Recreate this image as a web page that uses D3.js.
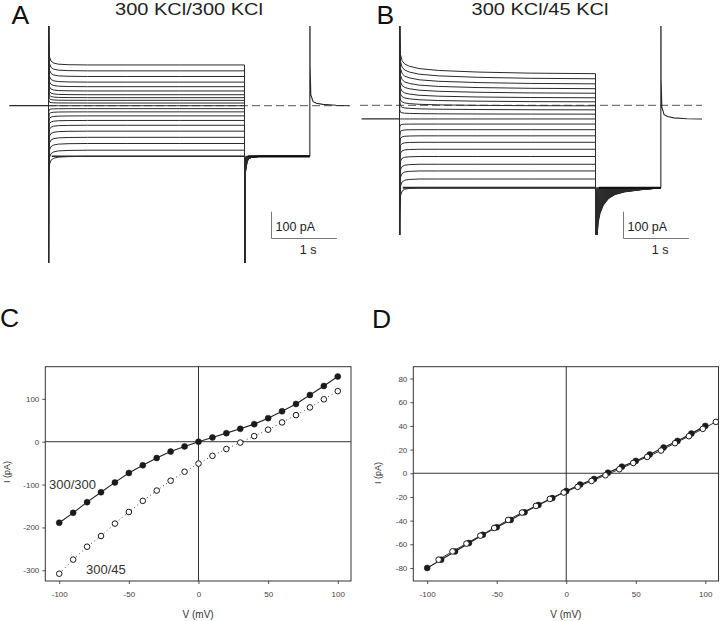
<!DOCTYPE html>
<html>
<head>
<meta charset="utf-8">
<script src="https://cdn.jsdelivr.net/npm/d3@7"></script>
<style>
  html, body { margin: 0; padding: 0; background: #fff; }
  svg { display: block; font-family: "Liberation Sans", Arial, sans-serif; }
</style>
</head>
<body>
<svg id="fig" width="720" height="621"></svg>
<script>
// ---------------- DATA ----------------
// Test voltages (mV)
const voltages = [-100,-90,-80,-70,-60,-50,-40,-30,-20,-10,0,10,20,30,40,50,60,70,80,90,100];
// Steady-state currents (pA), 300/300 KCl (filled) and 300/45 KCl (open)
const iSym  = [-189,-166,-141,-118,-95,-73,-55,-38,-23,-11,0,10,20,30,41,55,71,88,109,130,152];
const iAsym = [-308,-275,-245,-220,-191,-164,-138,-114,-91,-70,-51,-33,-17,-2,13,28,45,62,80,99,118];

// Panel D (normalised / corrected I-V)
const vD1 = [-100,-90,-80,-70,-60,-50,-40,-30,-20,-10,0,10,20,30,40,50,60,70,80,90,100];
const iD1 = [-80,-73,-66,-59,-52,-45.6,-39.4,-33,-26.8,-21,-15,-9.6,-4.8,0.5,5.6,10.4,15.8,21.7,27.3,33.5,40];
const vD2 = [-91.8,-81.8,-71.8,-61.8,-51.8,-41.8,-31.8,-21.8,-11.8,-1.8,8.2,18.2,28.2,38.2,48.2,58.2,68.2,78.2,88.2,98.2,107.6];
const iD2 = [-73,-66,-59.4,-52.7,-46.2,-39.4,-33.2,-27.6,-21.7,-16.3,-11.5,-6.5,-1.7,3.4,8.7,13.8,19.2,25.4,31.3,37.5,43.4];

// Protocol timing (s)
const tOn = 0.6, tOff = 3.6, tRet = 4.6, tEndA = 5.2, tStartA = 0, tStartB = 0.02, tEndB = 5.23;
const holdA = 0, holdB = -51;          // holding currents (pA)
const tailA = -189, tailB = -308;      // tail currents at -100 mV (pA)

// Capacitive / relaxation transients (pA)
const onT      = [0, 0.004, 0.015, 0.04, 0.08, 0.15, 0.3, 0.6, 1.2, 2.0, 3.0];
const onFastA  = [1500, 120, 30, 14, 7, 3, 1, 0, 0, 0, 0];     // per +100 mV step
const onFastB  = [1500, 120, 30, 12, 5, 2, 0, 0, 0, 0, 0];
const onSlowB  = [0, 45, 42, 36, 31, 26, 19, 12, 6, 2, 0];     // depolarised sweeps only
const offT     = [0, 0.004, 0.015, 0.04, 0.07, 0.12, 0.2, 0.3, 0.45, 0.7, 1.0];
const offA     = [-3000, -250, -60, -20, -8, -3, -1, 0, 0, 0, 0]; // per -200 mV step
const offB     = [-3000, -400, -220, -130, -95, -65, -40, -25, -15, -7, 0];
const retT     = [0, 0.004, 0.015, 0.05, 0.1, 0.2, 0.4, 0.6];
const retA     = [1500, 150, 40, 15, 9, 5, 1.5, 0];
const retB     = [1500, 150, 45, 16, 9, 4, 1, 0];

// Tick values
const ticksCx = [-100,-50,0,50,100];
const ticksCy = [-300,-200,-100,0,100];
const ticksDx = [-100,-50,0,50,100];
const ticksDy = [-80,-60,-40,-20,0,20,40,60,80];

// ---------------- DRAW ----------------
const svg = d3.select("#fig");
const ink = "#2a2a2a";

// ---- Trace panels ----
function tracePanel(cfg) {
  const g = svg.append("g");
  const clipId = "clip" + cfg.id;
  svg.append("defs").append("clipPath").attr("id", clipId)
    .append("rect").attr("x", cfg.clip[0]).attr("y", cfg.clip[1])
    .attr("width", cfg.clip[2]).attr("height", cfg.clip[3]);
  const x = cfg.x, y = cfg.y;
  const line = d3.line().x(d => x(d[0])).y(d => y(d[1]));
  const inner = g.append("g").attr("clip-path", `url(#${clipId})`);

  // zero-current dashed line
  inner.append("line")
    .attr("x1", cfg.dash[0]).attr("x2", cfg.dash[1])
    .attr("y1", y(0)).attr("y2", y(0))
    .attr("stroke", "#555").attr("stroke-width", 1)
    .attr("stroke-dasharray", "8,4");

  // holding before the step
  inner.append("path").attr("d", line([[cfg.t0, cfg.hold], [tOn, cfg.hold]]))
    .attr("fill", "none").attr("stroke", ink).attr("stroke-width", 1.3);

  const sweeps = voltages.map((v, k) => {
    const I = cfg.iss[k];
    const pts = [[tOn, cfg.hold]];
    onT.forEach((t, j) => {
      let extra = (v / 100) * cfg.onFast[j];
      if (cfg.onSlow && v > 0) extra += (v / 100) * cfg.onSlow[j];
      pts.push([tOn + t, I + extra]);
    });
    offT.forEach((t, j) => pts.push([tOff + t, cfg.tail + ((v + 100) / 200) * cfg.off[j]]));
    pts.push([tRet, cfg.tail]);
    return { v, pts };
  });

  // transient envelope after the step end (dense overlapping noisy sweeps)
  if (cfg.tailFill) {
    const area = d3.area().x(d => x(tOff + d[0])).y0(y(cfg.tail))
      .y1(d => y(cfg.tail + d[1]));
    inner.append("path")
      .attr("d", area(offT.map((t, j) => [t, cfg.off[j]]).slice(1)))
      .attr("fill", "#1e1e1e").attr("opacity", 0.85);
  }

  inner.selectAll("path.sweep").data(sweeps).join("path")
    .attr("class", "sweep")
    .attr("d", d => line(d.pts))
    .attr("fill", "none")
    .attr("stroke", ink)
    .attr("stroke-width", 1)
    .attr("stroke-linejoin", "round");

  // noisy hyperpolarised sweep and tail plateau (drawn thicker)
  inner.append("path")
    .attr("d", line([[tOn + 0.05, cfg.iss[0]], [tOff, cfg.iss[0]]]))
    .attr("stroke", ink).attr("stroke-width", cfg.noiseW).attr("fill", "none");
  inner.append("path")
    .attr("d", line([[tOff + 0.05, cfg.tail], [tRet, cfg.tail]]))
    .attr("stroke", "#111").attr("stroke-width", 2.2).attr("fill", "none");

  // return to holding (identical for every sweep)
  const retPts = [[tRet, cfg.tail]].concat(retT.map((t, j) => [tRet + t, cfg.hold + cfg.ret[j]]));
  retPts.push([cfg.t1, cfg.hold]);
  inner.append("path").attr("d", line(retPts))
    .attr("fill", "none").attr("stroke", ink).attr("stroke-width", 1.1);

  // scale bar
  const sb = cfg.bar;
  const barH = y(0) - y(100), barW = x(1) - x(0);
  g.append("path")
    .attr("d", `M${sb[0]},${sb[1] - barH}V${sb[1]}H${sb[0] + barW}`)
    .attr("fill", "none").attr("stroke", "#777").attr("stroke-width", 1);
  g.append("text").attr("x", sb[0] + 4).attr("y", sb[1] - 8)
    .attr("font-size", 12.5).attr("fill", "#222").text("100 pA");
  g.append("text").attr("x", sb[0] + barW / 2 + 4).attr("y", sb[1] + 15)
    .attr("text-anchor", "middle")
    .attr("font-size", 12.5).attr("fill", "#222").text("1 s");

  // title + panel letter
  g.append("text").attr("x", cfg.title[0]).attr("y", 15)
    .attr("text-anchor", "middle").attr("font-size", 17)
    .attr("textLength", cfg.title[1]).attr("lengthAdjust", "spacingAndGlyphs")
    .attr("fill", "#222").text(cfg.titleText);
  g.append("text").attr("x", cfg.letter).attr("y", 24)
    .attr("font-size", 26.5).attr("fill", "#111").text(cfg.id);
}

tracePanel({
  id: "A",
  x: d3.scaleLinear().domain([tOn, tOff]).range([48.5, 244.5]),
  y: d3.scaleLinear().domain([0, 100]).range([105.7, 105.7 - 26.8]),
  clip: [0, 26, 360, 237],
  dash: [48, 350],
  iss: iSym, hold: holdA, tail: tailA,
  onFast: onFastA, onSlow: null, off: offA, ret: retA, tailFill: false, noiseW: 1.5,
  t0: tStartA, t1: tEndA,
  bar: [271.5, 238.5],
  title: [189, 148], titleText: "300 KCl/300 KCl",
  letter: 11.5
});

tracePanel({
  id: "B",
  x: d3.scaleLinear().domain([tOn, tOff]).range([399.5, 595.5]),
  y: d3.scaleLinear().domain([0, 100]).range([105.3, 105.3 - 26.8]),
  clip: [360, 26, 360, 209],
  dash: [360, 702],
  iss: iAsym, hold: holdB, tail: tailB,
  onFast: onFastB, onSlow: onSlowB, off: offB, ret: retB, tailFill: true, noiseW: 2,
  t0: tStartB, t1: tEndB,
  bar: [623.5, 238.5],
  title: [540, 137], titleText: "300 KCl/45 KCl",
  letter: 376.5
});

// ---- I-V panels ----
function ivPanel(cfg) {
  const g = svg.append("g");
  const x = d3.scaleLinear().domain(cfg.xd).range([cfg.box[0], cfg.box[2]]);
  const y = d3.scaleLinear().domain(cfg.yd).range([cfg.box[3], cfg.box[1]]);
  const [L, T, R, B] = cfg.box;

  // axes
  const fmt = d => String(d);
  const ax = g.append("g").attr("transform", `translate(0,${B})`)
    .call(d3.axisBottom(x).tickValues(cfg.tx).tickFormat(fmt).tickSize(3).tickPadding(7));
  const ay = g.append("g").attr("transform", `translate(${L},0)`)
    .call(d3.axisLeft(y).tickValues(cfg.ty).tickFormat(fmt).tickSize(3).tickPadding(3));
  [ax, ay].forEach(a => {
    a.select(".domain").remove();
    a.selectAll("line").attr("stroke", "#555");
    a.selectAll("text").attr("font-size", 8).attr("fill", "#444")
      .attr("font-family", "Liberation Sans, Arial, sans-serif");
  });

  // frame
  g.append("rect").attr("x", L).attr("y", T).attr("width", R - L).attr("height", B - T)
    .attr("fill", "none").attr("stroke", "#333").attr("stroke-width", 1);
  // zero lines
  g.append("line").attr("x1", L).attr("x2", R).attr("y1", y(0)).attr("y2", y(0))
    .attr("stroke", "#333").attr("stroke-width", 1);
  g.append("line").attr("x1", x(0)).attr("x2", x(0)).attr("y1", T).attr("y2", B)
    .attr("stroke", "#333").attr("stroke-width", 1);

  const line = d3.line().x(d => x(d[0])).y(d => y(d[1]));
  cfg.series.forEach(s => {
    const pts = s.v.map((v, i) => [v, s.i[i]]);
    g.append("path").attr("d", line(pts)).attr("fill", "none")
      .attr("stroke", s.lineColor).attr("stroke-width", s.lw)
      .attr("stroke-dasharray", s.dash || null);
  });
  cfg.series.forEach(s => {
    const pts = s.v.map((v, i) => [v, s.i[i]]);
    g.selectAll(null).data(pts).join("circle")
      .attr("cx", d => x(d[0])).attr("cy", d => y(d[1])).attr("r", s.r)
      .attr("fill", s.filled ? "#1a1a1a" : "#fff")
      .attr("stroke", "#1a1a1a").attr("stroke-width", s.filled ? 0.5 : 1);
  });

  // axis titles
  g.append("text").attr("x", (L + R) / 2 + cfg.vOff).attr("y", 617.5)
    .attr("text-anchor", "middle").attr("font-size", 10).attr("fill", "#333").text("V (mV)");
  g.append("text").attr("transform", `translate(${cfg.iX},${cfg.iY}) rotate(-90)`)
    .attr("text-anchor", "middle").attr("font-size", 9).attr("fill", "#333").text("I (pA)");
  // letter
  g.append("text").attr("x", cfg.letter[0]).attr("y", cfg.letter[1])
    .attr("font-size", 26.5).attr("fill", "#111").text(cfg.id);
  return { g, x, y };
}

const C = ivPanel({
  id: "C",
  box: [45.3, 366.7, 351, 581],
  xd: [-110, 109.5], yd: [-325, 175],
  tx: ticksCx, ty: ticksCy,
  series: [
    { v: voltages, i: iAsym, filled: false, r: 2.8, lineColor: "#444", lw: 1, dash: "1,3" },
    { v: voltages, i: iSym, filled: true, r: 3, lineColor: "#222", lw: 1.1 }
  ],
  vOff: 0, iX: 10, iY: 472,
  letter: [0, 327]
});
C.g.append("text").attr("x", 49).attr("y", 489).attr("font-size", 13).attr("fill", "#333").text("300/300");
C.g.append("text").attr("x", 86).attr("y", 574).attr("font-size", 13).attr("fill", "#333").text("300/45");

ivPanel({
  id: "D",
  box: [413.3, 366.7, 718.5, 581],
  xd: [-110, 109.5], yd: [-91, 90],
  tx: ticksDx, ty: ticksDy,
  series: [
    { v: vD1, i: iD1, filled: true, r: 3, lineColor: "#222", lw: 1.2 },
    { v: vD2, i: iD2, filled: false, r: 2.8, lineColor: "#333", lw: 1 }
  ],
  vOff: 0, iX: 381, iY: 473,
  letter: [372, 328]
});
</script>
</body>
</html>
